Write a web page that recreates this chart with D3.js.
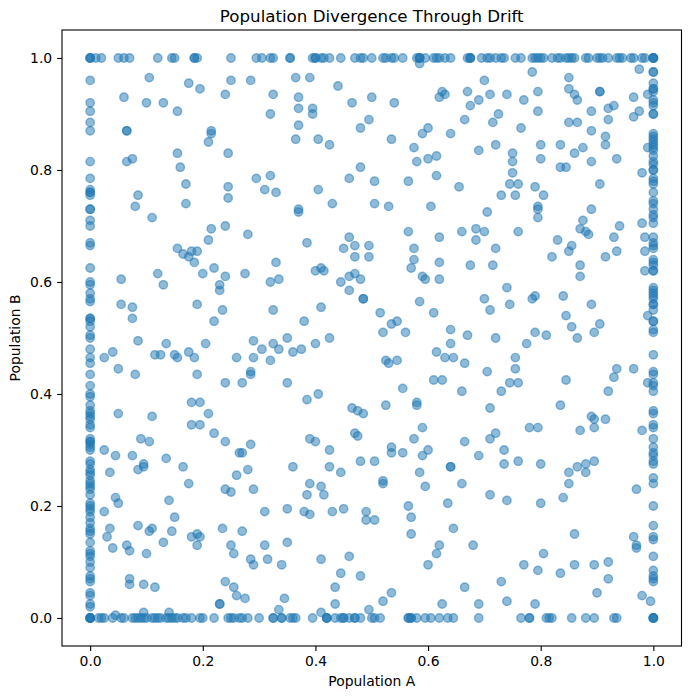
<!DOCTYPE html>
<html>
<head>
<meta charset="utf-8">
<script src="https://cdnjs.cloudflare.com/ajax/libs/d3/7.8.5/d3.min.js"></script>
<style>
    html, body { margin: 0; padding: 0; background: #fff; }
    text { font-family: "DejaVu Sans", sans-serif; fill: #000; }
</style>
</head>
<body>
<script>
// Population A values of the runs where B fixed at 1
var topEdgeA = [0, 0, 0, .01, .02, .05, .06, .07, .12, .145, .15, .185, .185, .19, .25, .295, .305, .32, .325, .355, .355,
    .395, .4, .4, .41, .415, .425, .445, .47, .48, .485, .5, .52, .525, .535, .54, .555, .58, .585, .585, .585, .595, .61,
    .615, .62, .63, .64, .67, .675, .675, .675, .695, .705, .71, .72, .73, .735, .755, .765, .785, .79, .795, .8, .805,
    .82, .83, .835, .845, .85, .855, .86, .88, .885, .9, .905, .91, .92, .935, .94, .945, .96, .965, .98, .985, 1, 1, 1, 1];

// Population A values of the runs where B was lost
var bottomEdgeA = [0, 0, 0, 0, 0, .015, .02, .025, .04, .055, .06, .075, .08, .085, .09, .095, .1, .11, .115, .12, .125,
    .135, .14, .145, .15, .155, .165, .17, .18, .195, .2, .22, .245, .25, .255, .265, .27, .28, .3, .325, .325, .34, .34,
    .355, .36, .365, .395, .42, .42, .42, .435, .445, .45, .45, .46, .47, .47, .48, .5, .505, .515, .565, .565, .57, .57,
    .58, .595, .605, .62, .635, .645, .69, .765, .78, .78, .81, .815, .82, .855, .88, .895, .93, .935, 1, 1, 1, 1];

// Population B values of the runs where A was lost
var leftEdgeB = [.96, .92, .905, .885, .87, .815, .785, .765, .76, .76, .755, .73, .73, .71, .7, .67, .665, .625, .6, .595,
    .58, .57, .565, .535, .535, .53, .52, .505, .5, .48, .465, .455, .435, .415, .4, .395, .38, .37, .365, .36, .355, .345,
    .34, .32, .315, .315, .31, .305, .3, .28, .275, .265, .26, .255, .245, .24, .235, .23, .22, .205, .2, .195, .19, .18,
    .17, .16, .155, .15, .135, .12, .115, .11, .1, .09, .075, .07, .065, .045, .04, .025, .02];

// Population B values of the runs where A fixed at 1
var rightEdgeB = [.975, .975, .955, .945, .945, .94, .925, .92, .915, .9, .9, .865, .86, .855, .85, .845, .84, .835, .825,
    .815, .81, .8, .8, .785, .78, .775, .76, .745, .74, .73, .72, .715, .705, .68, .67, .665, .66, .64, .635, .63, .62,
    .62, .59, .585, .58, .575, .57, .56, .56, .55, .53, .53, .515, .51, .47, .44, .435, .42, .415, .405, .37, .365, .345,
    .34, .32, .305, .295, .29, .28, .275, .25, .24, .2, .165, .145, .14, .11, .085, .075, .07, .065];

// [A, B] pairs still polymorphic in both populations
var interiorPairs = [
    [.105, .965], [.175, .955], [.195, .945], [.25, .96], [.285, .96], [.24, .935], [.06, .93], [.1, .92], [.13, .92],
    [.155, .905], [.065, .87], [.065, .87], [.215, .87], [.215, .865], [.21, .85], [.155, .83], [.245, .83], [.065, .815],
    [.075, .82], [.16, .805], [.17, .775], [.245, .77], [.295, .785], [.31, .765], [.085, .755], [.08, .735], [.17, .74],
    [.245, .75], [.11, .715], [.215, .695], [.24, .7], [.28, .685],
    [.585, .99], [.365, .965], [.39, .965], [.44, .95], [.325, .935], [.37, .93], [.5, .93], [.465, .92], [.54, .92],
    [.625, .94], [.63, .935], [.62, .93], [.67, .94], [.37, .91], [.395, .91], [.395, .9], [.675, .915], [.32, .9],
    [.37, .88], [.495, .89], [.48, .875], [.665, .89], [.6, .875], [.59, .865], [.64, .865], [.365, .855], [.405, .855],
    [.425, .845], [.535, .855], [.575, .84], [.58, .815], [.6, .82], [.615, .825], [.48, .805], [.32, .79], [.46, .785],
    [.505, .78], [.565, .78], [.615, .79], [.655, .77], [.33, .76], [.405, .765], [.43, .74], [.505, .74], [.53, .735],
    [.605, .735], [.37, .73], [.37, .725], [.565, .69], [.66, .69],
    [.785, .975], [.85, .965], [.975, .98], [.7, .96], [.795, .94], [.85, .945], [.905, .94], [.905, .94], [.71, .935],
    [.74, .935], [.86, .935], [.865, .925], [.77, .925], [.69, .925], [.965, .93], [.99, .935], [.795, .905], [.89, .905],
    [.92, .91], [.93, .915], [.975, .905], [.965, .895], [.725, .9], [.715, .885], [.92, .89], [.85, .885], [.865, .885],
    [.765, .875], [.89, .87], [.915, .86], [.915, .845], [.8, .845], [.835, .845], [.875, .84], [.72, .845], [.69, .835],
    [.75, .83], [.86, .83], [.75, .815], [.8, .82], [.89, .815], [.935, .82], [.835, .805], [.845, .805], [.75, .795],
    [.98, .795], [.745, .775], [.76, .775], [.79, .77], [.905, .775], [.73, .755], [.755, .755], [.805, .755], [.795, .735],
    [.795, .73], [.795, .715], [.89, .73], [.705, .725], [.875, .71], [.94, .7], [.98, .705], [.87, .695], [.88, .69],
    [.885, .685], [.685, .695], [.7, .69], [.76, .69], [.99, .84],
    [.21, .675], [.155, .66], [.165, .65], [.175, .645], [.18, .655], [.19, .655], [.185, .635], [.2, .615], [.22, .625],
    [.24, .61], [.275, .615], [.12, .615], [.055, .605], [.13, .595], [.23, .595], [.23, .585], [.055, .56], [.075, .555],
    [.075, .535], [.19, .56], [.235, .55], [.22, .53], [.085, .495], [.135, .49], [.205, .49], [.29, .495], [.305, .48],
    [.04, .475], [.025, .465], [.115, .47], [.125, .47], [.15, .47], [.155, .465], [.175, .475], [.185, .465], [.26, .465],
    [.29, .465], [.05, .445], [.08, .435], [.19, .435], [.285, .44], [.285, .435], [.24, .42], [.27, .42], [.18, .385],
    [.195, .385], [.21, .365], [.05, .365], [.11, .36], [.18, .345], [.195, .345], [.22, .33], [.09, .32], [.105, .315],
    [.24, .315],
    [.385, .67], [.46, .68], [.45, .66], [.47, .665], [.495, .665], [.47, .645], [.495, .645], [.62, .68], [.575, .66],
    [.575, .64], [.57, .625], [.62, .635], [.675, .63], [.33, .635], [.4, .62], [.41, .625], [.415, .62], [.335, .605],
    [.32, .6], [.46, .61], [.47, .615], [.48, .605], [.445, .6], [.46, .585], [.485, .57], [.485, .57], [.59, .61],
    [.595, .605], [.62, .605], [.585, .565], [.325, .55], [.41, .555], [.515, .545], [.61, .545], [.38, .53], [.535, .525],
    [.545, .53], [.52, .51], [.56, .51], [.64, .515], [.67, .505], [.35, .5], [.425, .5], [.325, .49], [.335, .48],
    [.36, .475], [.375, .48], [.4, .49], [.64, .49], [.615, .475], [.63, .465], [.645, .465], [.32, .46], [.525, .46],
    [.53, .455], [.545, .46], [.665, .455], [.35, .42], [.61, .425], [.625, .425], [.555, .41], [.66, .405], [.385, .39],
    [.405, .4], [.525, .38], [.58, .385], [.58, .38], [.465, .375], [.475, .37], [.485, .365], [.59, .34], [.47, .33],
    [.475, .325], [.39, .32], [.4, .315], [.575, .32], [.665, .315],
    [.685, .675], [.83, .675], [.93, .68], [.985, .68], [.72, .66], [.855, .665], [.85, .655], [.82, .645], [.935, .655],
    [.915, .645], [.985, .655], [.715, .63], [.87, .63], [.87, .61], [.985, .62], [.74, .59], [.7, .57], [.745, .56],
    [.79, .575], [.785, .57], [.84, .575], [.71, .55], [.845, .54], [.89, .56], [.99, .54], [.855, .52], [.905, .525],
    [.895, .51], [.79, .51], [.81, .505], [.865, .5], [.72, .5], [.775, .49], [.755, .465], [.755, .445], [.705, .44],
    [.745, .42], [.76, .42], [.73, .405], [.845, .425], [.935, .445], [.965, .445], [.93, .43], [.92, .405], [.99, .42],
    [.71, .375], [.835, .38], [.89, .36], [.895, .355], [.915, .355], [.78, .34], [.795, .34], [.87, .335], [.895, .34],
    [.98, .335], [.72, .33], [.71, .32],
    [.025, .3], [.045, .29], [.075, .29], [.135, .285], [.095, .275], [.095, .27], [.085, .265], [.165, .27], [.035, .26],
    [.175, .24], [.045, .215], [.05, .205], [.14, .21], [.025, .19], [.15, .18], [.085, .165], [.035, .16], [.11, .16],
    [.105, .155], [.145, .155], [.03, .145], [.065, .13], [.04, .125], [.07, .12], [.13, .135], [.1, .115], [.19, .15],
    [.18, .145], [.195, .145], [.19, .13], [.07, .07], [.07, .06], [.095, .06], [.115, .055], [.045, .005], [.095, .01],
    [.14, .01], [.285, .31], [.265, .295], [.27, .295], [.28, .265], [.26, .255], [.24, .23], [.25, .225], [.29, .23],
    [.31, .19], [.235, .16], [.27, .155], [.25, .13], [.255, .115], [.31, .13], [.285, .105], [.29, .095], [.315, .105],
    [.24, .065], [.255, .055], [.26, .04], [.275, .035], [.23, .025], [.23, .025],
    [.425, .3], [.535, .305], [.535, .295], [.555, .295], [.59, .29], [.6, .3], [.48, .28], [.505, .28], [.36, .27],
    [.425, .27], [.445, .26], [.64, .27], [.64, .27], [.585, .26], [.39, .24], [.41, .235], [.385, .22], [.415, .22],
    [.52, .245], [.52, .24], [.595, .235], [.66, .24], [.635, .205], [.565, .2], [.57, .18], [.35, .195], [.38, .19],
    [.39, .185], [.43, .19], [.45, .195], [.49, .19], [.49, .175], [.505, .175], [.645, .16], [.57, .15], [.35, .135],
    [.62, .13], [.615, .115], [.68, .13], [.34, .095], [.41, .105], [.46, .11], [.6, .095], [.445, .08], [.48, .075],
    [.435, .055], [.665, .055], [.535, .045], [.345, .035], [.52, .03], [.435, .025], [.625, .025], [.335, .015], [.41, .01],
    [.495, .015],
    [.69, .29], [.735, .3], [.735, .275], [.76, .28], [.8, .275], [.85, .26], [.865, .27], [.88, .275], [.88, .26],
    [.895, .28], [.85, .24], [.71, .22], [.74, .21], [.8, .205], [.84, .215], [.97, .23], [.86, .15], [.965, .145],
    [.97, .13], [.97, .125], [.805, .115], [.77, .095], [.795, .085], [.835, .08], [.86, .095], [.895, .095], [.92, .1],
    [.92, .07], [.73, .065], [.9, .045], [.98, .04], [.995, .03], [.69, .025], [.74, .03], [.79, .025]
];

var tickValues = [0, 0.2, 0.4, 0.6, 0.8, 1];

function chartMain() {
    var w = 691;
    var h = 699;
    // axes box in page pixels
    var margin = {
        top: 30,
        bottom: 53,
        left: 62,
        right: 9.5
    };

    var points = interiorPairs
        .concat(topEdgeA.map(function (a) { return [a, 1]; }))
        .concat(bottomEdgeA.map(function (a) { return [a, 0]; }))
        .concat(leftEdgeB.map(function (b) { return [0, b]; }))
        .concat(rightEdgeB.map(function (b) { return [1, b]; }));

    var svg = d3.select("body").append("svg")
        .attr("width", w)
        .attr("height", h)
        .style("display", "block");

    var x = d3.scaleLinear()
        .domain([-0.05, 1.05])
        .range([margin.left, w - margin.right]);
    var y = d3.scaleLinear()
        .domain([-0.05, 1.05])
        .range([h - margin.bottom, margin.top]);

    var xAxis = d3.axisBottom(x)
        .tickValues(tickValues)
        .tickFormat(d3.format(".1f"))
        .tickSize(4.9)
        .tickPadding(4.9);
    var yAxis = d3.axisLeft(y)
        .tickValues(tickValues)
        .tickFormat(d3.format(".1f"))
        .tickSize(4.9)
        .tickPadding(4.9);

    // POINTS
    svg.append("g")
        .selectAll("circle")
        .data(points)
        .enter()
        .append("circle")
        .attr("cx", function (d) { return x(d[0]); })
        .attr("cy", function (d) { return y(d[1]); })
        .attr("r", 4.2)
        .attr("fill", "#1f77b4")
        .attr("fill-opacity", 0.5)
        .attr("stroke", "#1f77b4")
        .attr("stroke-opacity", 0.5)
        .attr("stroke-width", 1.4);

    // AXIS
    var gx = svg.append("g")
        .attr("transform", "translate(0," + (h - margin.bottom) + ")")
        .call(xAxis);
    var gy = svg.append("g")
        .attr("transform", "translate(" + margin.left + ",0)")
        .call(yAxis);

    [gx, gy].forEach(function (g) {
        g.select(".domain").remove();
        g.selectAll(".tick line").attr("stroke", "#000").attr("stroke-width", 1.1);
        g.selectAll(".tick text")
            .attr("fill", "#000")
            .style("font-family", '"DejaVu Sans", sans-serif')
            .style("font-size", "13.9px");
    });

    svg.append("rect")
        .attr("x", margin.left)
        .attr("y", margin.top)
        .attr("width", w - margin.left - margin.right)
        .attr("height", h - margin.top - margin.bottom)
        .attr("fill", "none")
        .attr("stroke", "#000")
        .attr("stroke-width", 1.1);

    // LABELS
    var midX = (margin.left + w - margin.right) / 2;
    var midY = (margin.top + h - margin.bottom) / 2;
    svg.append("text")
        .attr("x", midX)
        .attr("y", 21.5)
        .attr("text-anchor", "middle")
        .style("font-size", "16.67px")
        .text("Population Divergence Through Drift");
    svg.append("text")
        .attr("x", midX)
        .attr("y", 686)
        .attr("text-anchor", "middle")
        .style("font-size", "13.9px")
        .text("Population A");
    svg.append("text")
        .attr("transform", "translate(20," + midY + ") rotate(-90)")
        .attr("text-anchor", "middle")
        .style("font-size", "13.9px")
        .text("Population B");
}

chartMain();
</script>
</body>
</html>
